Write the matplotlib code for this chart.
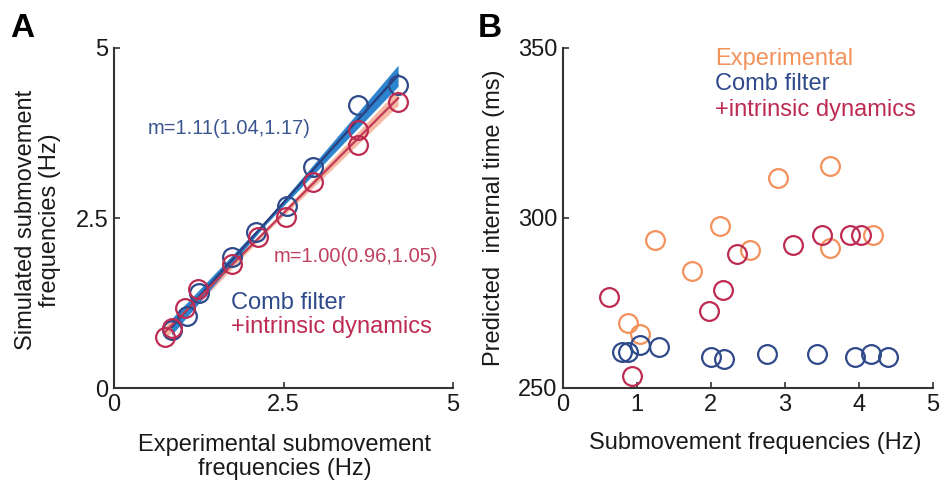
import numpy as np
import matplotlib
matplotlib.use("Agg")
import matplotlib.pyplot as plt

plt.rcParams['font.family'] = ['Liberation Sans', 'DejaVu Sans']

# ---- Panel A: simulated vs experimental submovement frequencies (Hz) ----
comb_x = [0.85, 1.07, 1.25, 1.74, 2.10, 2.55, 2.94, 3.60, 4.19]
comb_y = [0.86, 1.06, 1.39, 1.93, 2.30, 2.67, 3.25, 4.16, 4.46]
intr_x = [0.75, 0.85, 1.05, 1.24, 1.74, 2.13, 2.54, 2.94, 3.60, 3.60, 4.19]
intr_y = [0.75, 0.88, 1.17, 1.45, 1.83, 2.22, 2.52, 3.03, 3.80, 3.57, 4.20]
comb_slope = [1.11, 1.04, 1.17]   # estimate, lower, upper
intr_slope = [1.00, 0.96, 1.05]
mean_se = 0.03                    # half-width of the confidence band at the mean

# ---- Panel B: predicted internal time (ms) vs submovement frequency (Hz) ----
exp_x = [0.88, 1.04, 1.25, 1.75, 2.12, 2.53, 2.91, 3.61, 3.61, 4.19]
exp_t = [269.1, 265.9, 293.5, 284.5, 297.6, 290.7, 311.9, 315.3, 291.2, 295.0]
combB_x = [0.80, 0.88, 1.04, 1.30, 2.01, 2.18, 2.76, 3.43, 3.95, 4.16, 4.39]
combB_t = [260.7, 260.7, 262.7, 262.0, 259.2, 258.5, 260.0, 260.0, 259.2, 260.0, 259.2]
intrB_x = [0.62, 0.93, 1.98, 2.16, 2.36, 3.11, 3.50, 3.88, 4.03]
intrB_t = [276.8, 253.5, 272.5, 278.7, 289.3, 292.2, 295.0, 295.0, 295.0]

ticksA = [0, 2.5, 5]
tick_labelsA = ['0', '2.5', '5']
ticksB_x = [0, 1, 2, 3, 4, 5]
ticksB_y = [250, 300, 350]

BLUE = '#2f4a8a'
RED = '#bd2b52'
ORANGE = '#f3915c'
BLUE_LINE = '#2a3f7e'
BLUE_BAND = '#2d84cf'
RED_LINE = '#c23a55'
RED_BAND = '#f6b9a3'
AXC = '#333333'
TXT = '#1a1a1a'
FS = 17

W, H = 941, 486
fig = plt.figure(figsize=(W / 100, H / 100), dpi=100)


def fx(px):
    return px / W


def fy(py):
    return 1 - py / H


def style(ax):
    for s in ('top', 'right'):
        ax.spines[s].set_visible(False)
    for s in ('left', 'bottom'):
        ax.spines[s].set_linewidth(1.5)
        ax.spines[s].set_color(AXC)
    ax.tick_params(direction='in', length=4, width=1.2, color=AXC,
                   labelsize=FS, pad=4, labelcolor=TXT)


def fit_band(ax, xs, ys, slopes, band_c):
    xs = np.asarray(xs)
    ys = np.asarray(ys)
    m, lo, hi = slopes
    xm, ym = xs.mean(), ys.mean()
    xx = np.linspace(xs.min(), xs.max(), 60)
    y_lo = ym + lo * (xx - xm)
    y_hi = ym + hi * (xx - xm)
    ax.fill_between(xx, np.minimum(y_lo, y_hi) - mean_se,
                    np.maximum(y_lo, y_hi) + mean_se,
                    color=band_c, lw=0, zorder=1)
    return xx, ym + m * (xx - xm)


# ---------------- Panel A ----------------
axA = fig.add_axes([fx(114), fy(388), (453 - 114) / W, (388 - 48) / H])
style(axA)
axA.set_xlim(0, 5)
axA.set_ylim(0, 5)
axA.set_xticks(ticksA, tick_labelsA)
axA.set_yticks(ticksA, tick_labelsA)

xr, yr = fit_band(axA, intr_x, intr_y, intr_slope, RED_BAND)
xb, yb = fit_band(axA, comb_x, comb_y, comb_slope, BLUE_BAND)
axA.plot(xb, yb, color=BLUE_LINE, lw=1.6, zorder=2)
axA.plot(xr, yr, color=RED_LINE, lw=1.6, zorder=2)

mk = dict(marker='o', ms=13.5, mfc='none', mew=1.6, ls='none', clip_on=False)
axA.plot(comb_x, comb_y, mec=BLUE, zorder=3, **mk)
axA.plot(intr_x, intr_y, mec=RED, zorder=4, **mk)

axA.text(0.50, 3.82, 'm=%.2f(%.2f,%.2f)' % tuple(comb_slope), color='#3a5590',
         fontsize=14.5, va='center', ha='left')
axA.text(2.35, 1.93, 'm=%.2f(%.2f,%.2f)' % tuple(intr_slope), color='#c0405f',
         fontsize=14.5, va='center', ha='left')
axA.text(1.73, 1.25, 'Comb filter', color=BLUE, fontsize=FS, va='center', ha='left')
axA.text(1.73, 0.90, '+intrinsic dynamics', color=RED, fontsize=FS, va='center', ha='left')

fig.text(fx(285), fy(457), 'Experimental submovement\nfrequencies (Hz)',
         ha='center', va='center', fontsize=FS, linespacing=1.15, color=TXT)
fig.text(fx(38), fy(220), 'Simulated submovement\nfrequencies (Hz)',
         ha='center', va='center', rotation=90, fontsize=FS, linespacing=1.15,
         color=TXT)
fig.text(fx(10), fy(37), 'A', fontsize=24, fontweight='bold', ha='left', va='baseline')

# ---------------- Panel B ----------------
axB = fig.add_axes([fx(562.7), fy(388), (932.7 - 562.7) / W, (388 - 48) / H])
style(axB)
axB.set_xlim(0, 5)
axB.set_ylim(250, 350)
axB.set_xticks(ticksB_x)
axB.set_yticks(ticksB_y)

axB.plot(exp_x, exp_t, mec=ORANGE, zorder=3, **mk)
axB.plot(combB_x, combB_t, mec=BLUE, zorder=3, **mk)
axB.plot(intrB_x, intrB_t, mec=RED, zorder=3, **mk)

axB.text(2.06, 346.8, 'Experimental', color=ORANGE, fontsize=FS, va='center', ha='left')
axB.text(2.06, 339.5, 'Comb filter', color=BLUE, fontsize=FS, va='center', ha='left')
axB.text(2.06, 331.8, '+intrinsic dynamics', color=RED, fontsize=FS, va='center', ha='left')

fig.text(fx(755), fy(443), 'Submovement frequencies (Hz)', ha='center', va='center',
         fontsize=FS, color=TXT)
fig.text(fx(494), fy(218), 'Predicted  internal time (ms)', ha='center', va='center',
         rotation=90, fontsize=FS, color=TXT)
fig.text(fx(478), fy(37), 'B', fontsize=24, fontweight='bold', ha='left', va='baseline')

fig.savefig('out.png', dpi=100)
